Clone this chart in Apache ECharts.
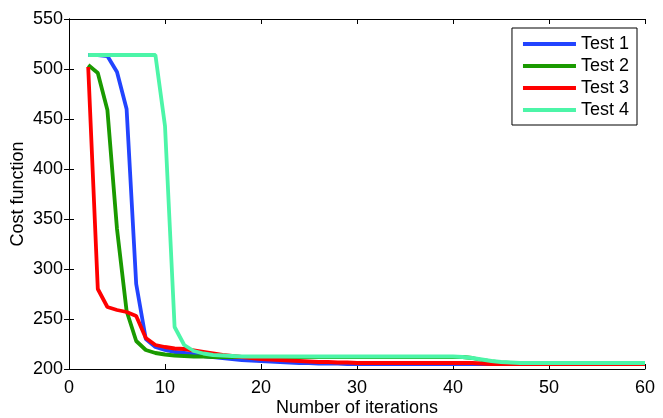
<!DOCTYPE html>
<html>
<head>
<meta charset="utf-8">
<title>Cost function</title>
<script src="https://cdn.jsdelivr.net/npm/echarts@6/dist/echarts.min.js"></script>
<style>
  html, body { margin: 0; padding: 0; background: #fff; }
  #chart { width: 663px; height: 418px; }
</style>
</head>
<body>
<div id="chart"></div>
<script>
// iteration numbers (x values)
var iterations = [2, 3, 4, 5, 6, 7, 8, 9, 10, 11, 12, 13, 14, 15, 16, 17, 18, 19, 20,
  21, 22, 23, 24, 25, 26, 27, 28, 29, 30, 31, 32, 33, 34, 35, 36, 37, 38, 39, 40,
  41, 42, 43, 44, 45, 46, 47, 48, 49, 50, 51, 52, 53, 54, 55, 56, 57, 58, 59, 60];

var test1 = [514, 514, 513, 497, 460, 285, 230, 222, 219, 217, 216, 214.5, 213, 212, 211, 210, 209, 208.5, 208,
  207.5, 207, 206.5, 206, 206, 205.5, 205.5, 205.5, 205, 205, 205, 205, 205, 205, 205, 205, 205, 205, 205, 205,
  205, 205, 205, 205, 205, 205, 205, 205, 205, 205, 205, 205, 205, 205, 205, 205, 205, 205, 205, 205];

var test2 = [504, 496, 459, 340, 258, 228, 219, 216, 214.5, 213.5, 213, 212.5, 212.5, 212, 212, 212, 212, 212, 212,
  212, 212, 212, 212, 212, 212, 212, 212, 212, 212, 212, 212, 212, 212, 212, 212, 212, 212, 212, 212,
  212, 211, 209, 207.5, 206.5, 206, 206, 206, 206, 206, 206, 206, 206, 206, 206, 206, 206, 206, 206, 206];

var test3 = [502, 280, 262, 259, 257, 253, 231, 224, 222, 220.5, 220, 218.5, 217, 215.5, 214, 213, 212, 211, 210,
  209.5, 209, 208.5, 208, 207.5, 207, 207, 206.5, 206.5, 206, 206, 206, 206, 206, 206, 206, 206, 206, 206, 206,
  206, 206, 205.5, 205, 205, 205, 205, 205, 205, 205, 205, 205, 205, 205, 205, 205, 205, 205, 205, 205];

var test4 = [514, 514, 514, 514, 514, 514, 514, 514, 443, 242, 224, 218, 215.5, 214, 213.5, 213, 212.5, 212.5, 212.5,
  212.5, 212.5, 212.5, 212.5, 212.5, 212.5, 212.5, 212.5, 212.5, 212.5, 212.5, 212.5, 212.5, 212.5, 212.5, 212.5, 212.5, 212.5, 212.5, 212.5,
  212, 211, 209.5, 208, 207, 206.5, 206, 206, 206, 206, 206, 206, 206, 206, 206, 206, 206, 206, 206, 206];

var names = ['Test 1', 'Test 2', 'Test 3', 'Test 4'];
var colors = ['#2244ff', '#1a9a00', '#ff0000', '#4cf5a8'];
var values = [test1, test2, test3, test4];

var font = "'Liberation Sans', Arial, Helvetica, sans-serif";

function pairs(ys) {
  var out = [];
  for (var i = 0; i < iterations.length; i++) out.push([iterations[i], ys[i]]);
  return out;
}

var series = [];
for (var k = 0; k < names.length; k++) {
  series.push({
    name: names[k],
    type: 'line',
    data: pairs(values[k]),
    showSymbol: false,
    symbol: 'none',
    lineStyle: { width: 3.8, color: colors[k] },
    itemStyle: { color: colors[k] },
    animation: false
  });
}

var tickStyle = { show: true, inside: true, length: 5, lineStyle: { color: '#000', width: 1 } };
var lineStyle = { show: true, lineStyle: { color: '#000', width: 1 } };

var chart = echarts.init(document.getElementById('chart'));
chart.setOption({
  backgroundColor: '#fff',
  animation: false,
  grid: { left: 69, right: 18, top: 19, bottom: 49, containLabel: false, outerBoundsMode: 'none' },
  legend: {
    orient: 'vertical',
    right: 26,
    top: 28,
    data: names,
    icon: 'rect',
    itemWidth: 53,
    itemHeight: 4,
    itemGap: 4,
    padding: [7, 8, 6, 11],
    borderColor: '#000',
    borderWidth: 1,
    borderRadius: 0,
    backgroundColor: '#fff',
    textStyle: { fontSize: 18, color: '#000', fontFamily: font }
  },
  xAxis: [{
    type: 'value',
    min: 0, max: 60, interval: 10,
    name: 'Number of iterations',
    nameLocation: 'middle',
    nameGap: 30,
    nameMoveOverlap: false,
    nameTextStyle: { fontSize: 18, color: '#000', fontFamily: font },
    axisLine: lineStyle,
    axisTick: tickStyle,
    axisLabel: { fontSize: 18, color: '#000', fontFamily: font, margin: 10 },
    splitLine: { show: false }
  }, {
    type: 'value',
    position: 'top',
    min: 0, max: 60, interval: 10,
    axisLine: lineStyle,
    axisTick: tickStyle,
    axisLabel: { show: false },
    splitLine: { show: false }
  }],
  yAxis: [{
    type: 'value',
    min: 200, max: 550, interval: 50,
    name: 'Cost function',
    nameLocation: 'middle',
    nameGap: 42,
    nameMoveOverlap: false,
    nameTextStyle: { fontSize: 18, color: '#000', fontFamily: font },
    axisLine: lineStyle,
    axisTick: tickStyle,
    axisLabel: { fontSize: 18, color: '#000', fontFamily: font, margin: 6 },
    splitLine: { show: false }
  }, {
    type: 'value',
    position: 'right',
    min: 200, max: 550, interval: 50,
    axisLine: lineStyle,
    axisTick: tickStyle,
    axisLabel: { show: false },
    splitLine: { show: false }
  }],
  series: series
});
</script>
</body>
</html>
